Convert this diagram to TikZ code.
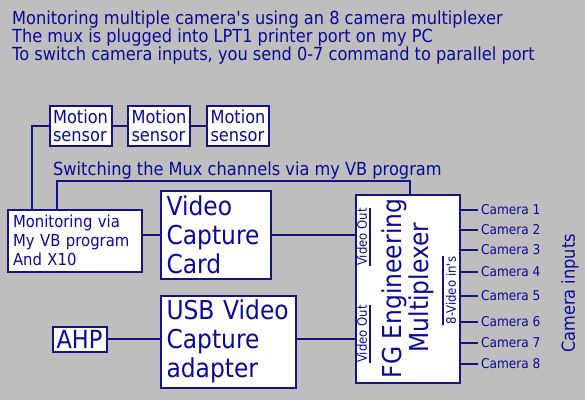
\documentclass[tikz,border=0pt]{standalone}
\usepackage{fontspec}
\setmainfont{DejaVu Sans}[FakeStretch=0.9]
\usetikzlibrary{positioning,calc}
\definecolor{bggray}{RGB}{190,190,190}
\definecolor{navyline}{RGB}{20,20,128}
\definecolor{navytext}{RGB}{10,10,150}

\begin{document}
\begin{tikzpicture}[x=1pt, y=-1pt,
    box/.style={draw=navyline, line width=2pt, fill=white, inner xsep=6pt, inner ysep=0pt, align=left, text=navytext},
    ln/.style={draw=navyline, line width=2pt},
    lbl/.style={text=navytext, inner sep=0pt, align=left},
    cam/.style={text=navytext, inner xsep=3pt, inner ysep=0pt, anchor=west, font=\fontsize{13.5}{15}\selectfont},
    small/.style={font=\fontsize{18}{18}\selectfont},
    big/.style={font=\fontsize{26}{29}\selectfont}
]
\fill[bggray] (0,0) rectangle (585,400);
\useasboundingbox (0,0) rectangle (585,400);

% heading
\node[lbl, small, anchor=north west] (title) at (12,10.3) {Monitoring multiple camera\textquotesingle s using an 8 camera multiplexer\\The mux is plugged into LPT1 printer port on my PC\\To switch camera inputs, you send 0-7 command to parallel port};

% sensors
\node[box, small, inner xsep=3pt, minimum width=62pt, minimum height=40pt] (ms1) at (80.5,125.5) {Motion\\sensor};
\node[box, small, inner xsep=3pt, minimum width=62pt, minimum height=40pt] (ms2) at (159,125.5) {Motion\\sensor};
\node[box, small, inner xsep=3pt, minimum width=62pt, minimum height=40pt] (ms3) at (238,125.5) {Motion\\sensor};

\node[lbl, small, anchor=base west] (swtxt) at (53,175) {Switching the Mux channels via my VB program};

% boxes
\node[box, font=\fontsize{16.5}{19}\selectfont, inner xsep=5pt, text width=124pt, minimum height=62pt] (mon) at (75,240.5) {Monitoring via\\My VB program\\And X10};
\node[box, big, text width=98pt, minimum height=88pt] (vcc) at (215.5,234.5) {Video\\Capture\\Card};
\node[box, big, text width=123pt, minimum height=92pt] (usb) at (228,341.5) {USB Video\\Capture\\adapter};
\node[box, font=\fontsize{25}{27}\selectfont, inner xsep=3pt, minimum width=54pt, minimum height=25pt, align=center] (ahp) at (79.5,339) {AHP};
\node[box, minimum width=104pt, minimum height=188pt] (mux) at (407.5,288.5) {};

% inside the mux
\node[lbl, rotate=90, font=\fontsize{13}{15}\selectfont] (vo1) at (362,237) {Video Out};
\node[lbl, rotate=90, font=\fontsize{13}{15}\selectfont] (vo2) at (362,334) {Video Out};
\draw[ln, line width=1.5pt] ([xshift=3pt]vo1.south west) -- ([xshift=3pt]vo1.south east);
\draw[ln, line width=1.5pt] ([xshift=3pt]vo2.south west) -- ([xshift=3pt]vo2.south east);
\node[lbl, rotate=90, font=\fontsize{26}{30}\selectfont] (fg) at (394,288.5) {FG Engineering};
\node[lbl, rotate=90, font=\fontsize{26}{30}\selectfont] (mpx) at (421,287.5) {Multiplexer};
\node[lbl, rotate=90, font=\fontsize{13}{15}\selectfont] (vin) at (451,290.5) {8-Video in\textquotesingle s};
\draw[ln, line width=1.5pt] ([xshift=-3pt]vin.north west) -- ([xshift=-3pt]vin.north east);

% connectors
\coordinate (msL) at (32,125.5);
\coordinate (swL) at (57,181);
\coordinate (swR) at (410,181);
\draw[ln] (ms1) -- (ms2);
\draw[ln] (ms2) -- (ms3);
\draw[ln] (ms1.west) -- (msL) -- (msL |- mon.north);
\draw[ln] (swL |- mon.north) -- (swL) -- (swR) -- (swR |- mux.north);
\draw[ln] (mon.east |- vcc.west) -- (vcc.west);
\draw[ln] (vcc.east) -- (vcc.east -| mux.west);
\draw[ln] (ahp.east) -- (ahp.east -| usb.west);
\draw[ln] (usb.east |- ahp) -- (ahp -| mux.west);

% cameras
\foreach \n/\y in {1/210,2/230,3/250,4/272,5/296,6/322,7/343,8/364} {
  \node[cam] (cam\n) at (478,\y) {Camera \n};
  \draw[ln] (cam\n.west -| mux.east) -- (cam\n.west);
}
\node[lbl, rotate=90, font=\fontsize{18}{20}\selectfont] (inputs) at (570,293.5) {Camera inputs};
\end{tikzpicture}
\end{document}
